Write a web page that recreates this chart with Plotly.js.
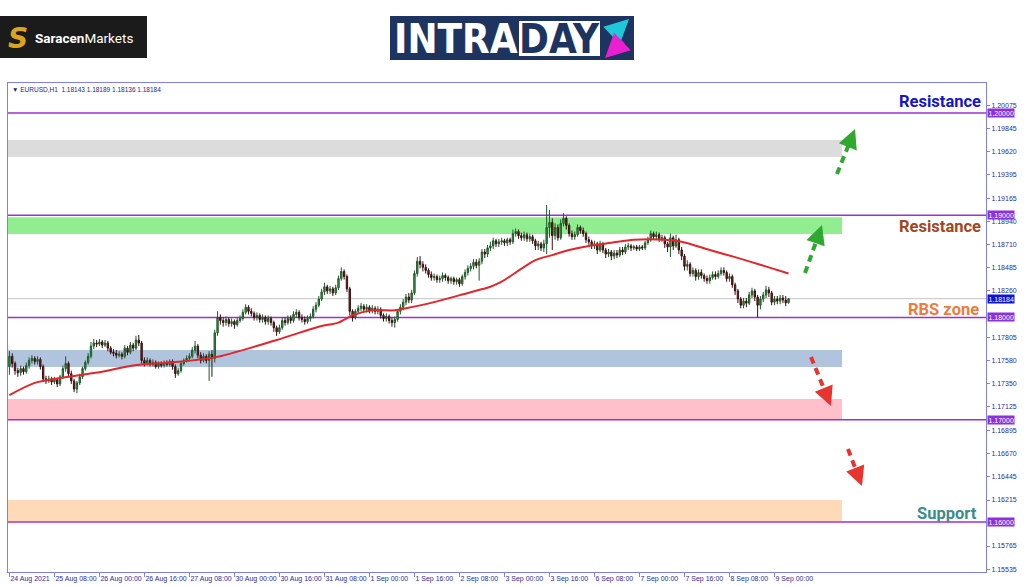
<!DOCTYPE html>
<html><head><meta charset="utf-8">
<script src="https://cdn.plot.ly/plotly-3.0.1.min.js"></script>
<style>html,body{margin:0;padding:0;background:#fff}#chart{width:1024px;height:587px}</style>
</head><body><div id="chart"></div>
<script>
// ---------- DATA (EURUSD H1) ----------
const openP = [1.1752,1.1762,1.1755,1.1748,1.1746,1.1750,1.1747,1.1753,1.1758,1.1760,
1.1757,1.1759,1.1752,1.1740,1.1738,1.1740,1.1737,1.1739,1.1735,1.1742,
1.1750,1.1755,1.1745,1.1738,1.1730,1.1736,1.1742,1.1750,1.1756,1.1762,
1.1772,1.1775,1.1774,1.1776,1.1773,1.1775,1.1770,1.1766,1.1765,1.1763,
1.1764,1.1762,1.1770,1.1766,1.1773,1.1770,1.1778,1.1775,1.1758,1.1755,
1.1758,1.1754,1.1756,1.1752,1.1755,1.1753,1.1756,1.1754,1.1757,1.1752,
1.1745,1.1748,1.1755,1.1758,1.1760,1.1762,1.1768,1.1772,1.1763,1.1758,
1.1762,1.1758,1.1764,1.1760,1.1785,1.1800,1.1797,1.1795,1.1798,1.1794,
1.1796,1.1793,1.1797,1.1799,1.1805,1.1810,1.1806,1.1804,1.1800,1.1802,
1.1798,1.1800,1.1796,1.1799,1.1795,1.1790,1.1786,1.1790,1.1797,1.1795,
1.1799,1.1797,1.1803,1.1805,1.1800,1.1798,1.1796,1.1799,1.1801,1.1808,
1.1812,1.1818,1.1825,1.1830,1.1826,1.1828,1.1824,1.1829,1.1838,1.1845,
1.1840,1.1828,1.1806,1.1800,1.1806,1.1809,1.1811,1.1808,1.1810,1.1807,
1.1809,1.1806,1.1808,1.1802,1.1799,1.1801,1.1797,1.1795,1.1798,1.1806,
1.1810,1.1815,1.1820,1.1817,1.1824,1.1843,1.1855,1.1852,1.1849,1.1846,
1.1842,1.1839,1.1840,1.1837,1.1838,1.1841,1.1839,1.1836,1.1838,1.1835,
1.1837,1.1833,1.1840,1.1844,1.1848,1.1850,1.1854,1.1851,1.1855,1.1864,
1.1862,1.1868,1.1870,1.1875,1.1872,1.1874,1.1875,1.1873,1.1876,1.1874,
1.1882,1.1884,1.1880,1.1878,1.1881,1.1877,1.1879,1.1875,1.1870,1.1872,
1.1868,1.1872,1.1888,1.1893,1.1880,1.1888,1.1878,1.1892,1.1897,1.1890,
1.1882,1.1879,1.1881,1.1888,1.1885,1.1882,1.1876,1.1874,1.1870,1.1872,
1.1866,1.1872,1.1866,1.1862,1.1864,1.1860,1.1863,1.1861,1.1866,1.1864,
1.1869,1.1870,1.1868,1.1869,1.1867,1.1869,1.1868,1.1873,1.1876,1.1882,
1.1879,1.1881,1.1877,1.1878,1.1872,1.1869,1.1878,1.1870,1.1876,1.1866,
1.1860,1.1850,1.1852,1.1843,1.1846,1.1840,1.1844,1.1841,1.1838,1.1836,
1.1839,1.1842,1.1840,1.1843,1.1846,1.1844,1.1838,1.1840,1.1832,1.1826,
1.1818,1.1812,1.1816,1.1814,1.1822,1.1826,1.1820,1.1812,1.1818,1.1822,
1.1827,1.1824,1.1815,1.1818,1.1816,1.1819,1.1817,1.18143];

const highP = [1.1767,1.1765,1.1757,1.1751,1.1753,1.1752,1.1756,1.1761,1.1763,1.1762,
1.1762,1.1761,1.1754,1.1743,1.1743,1.1742,1.1742,1.1741,1.1744,1.1753,
1.1762,1.1757,1.1748,1.1740,1.1738,1.1745,1.1752,1.1758,1.1765,1.1776,
1.1779,1.1778,1.1779,1.1778,1.1778,1.1777,1.1772,1.1769,1.1768,1.1767,
1.1766,1.1773,1.1772,1.1776,1.1775,1.1782,1.1783,1.1777,1.1761,1.1761,
1.1760,1.1759,1.1758,1.1757,1.1757,1.1758,1.1758,1.1759,1.1759,1.1754,
1.1751,1.1757,1.1760,1.1763,1.1765,1.1771,1.1777,1.1774,1.1766,1.1765,
1.1764,1.1767,1.1768,1.1788,1.1806,1.1803,1.1800,1.1801,1.1800,1.1799,
1.1798,1.1800,1.1802,1.1808,1.1813,1.1812,1.1809,1.1806,1.1805,1.1804,
1.1803,1.1802,1.1802,1.1801,1.1797,1.1792,1.1793,1.1800,1.1800,1.1802,
1.1802,1.1806,1.1808,1.1807,1.1803,1.1801,1.1802,1.1804,1.1811,1.1815,
1.1821,1.1828,1.1834,1.1832,1.1831,1.1830,1.1832,1.1841,1.1849,1.1847,
1.1842,1.1830,1.1808,1.1808,1.1812,1.1814,1.1813,1.1813,1.1812,1.1812,
1.1811,1.1811,1.1810,1.1804,1.1804,1.1803,1.1800,1.1801,1.1808,1.1813,
1.1818,1.1823,1.1824,1.1827,1.1846,1.1859,1.1860,1.1855,1.1852,1.1848,
1.1845,1.1843,1.1842,1.1841,1.1844,1.1843,1.1841,1.1840,1.1840,1.1839,
1.1839,1.1842,1.1847,1.1851,1.1853,1.1857,1.1857,1.1858,1.1867,1.1867,
1.1871,1.1874,1.1878,1.1877,1.1877,1.1878,1.1877,1.1878,1.1878,1.1886,
1.1887,1.1886,1.1883,1.1884,1.1883,1.1882,1.1881,1.1877,1.1875,1.1874,
1.1876,1.1910,1.1905,1.1897,1.1892,1.1891,1.1896,1.1902,1.1899,1.1892,
1.1885,1.1884,1.1891,1.1890,1.1888,1.1884,1.1879,1.1876,1.1875,1.1874,
1.1875,1.1874,1.1868,1.1867,1.1866,1.1866,1.1866,1.1869,1.1869,1.1872,
1.1873,1.1872,1.1871,1.1871,1.1871,1.1871,1.1875,1.1879,1.1885,1.1884,
1.1884,1.1883,1.1881,1.1880,1.1874,1.1882,1.1880,1.1881,1.1878,1.1869,
1.1862,1.1856,1.1854,1.1849,1.1848,1.1847,1.1847,1.1843,1.1841,1.1842,
1.1845,1.1845,1.1846,1.1849,1.1849,1.1846,1.1843,1.1842,1.1834,1.1828,
1.1820,1.1819,1.1819,1.1825,1.1829,1.1828,1.1822,1.1821,1.1825,1.1831,
1.1830,1.1826,1.1821,1.1821,1.1822,1.1822,1.1821,1.18189];

const lowP = [1.1744,1.1751,1.1744,1.1742,1.1743,1.1744,1.1745,1.1750,1.1755,1.1754,
1.1754,1.1749,1.1737,1.1735,1.1736,1.1734,1.1735,1.1732,1.1733,1.1740,
1.1747,1.1742,1.1735,1.1727,1.1726,1.1734,1.1740,1.1748,1.1754,1.1760,
1.1769,1.1771,1.1772,1.1770,1.1771,1.1767,1.1764,1.1762,1.1760,1.1761,
1.1759,1.1760,1.1763,1.1764,1.1767,1.1768,1.1772,1.1755,1.1752,1.1753,
1.1752,1.1752,1.1750,1.1750,1.1751,1.1751,1.1752,1.1752,1.1749,1.1741,
1.1743,1.1746,1.1753,1.1756,1.1757,1.1760,1.1765,1.1760,1.1755,1.1756,
1.1755,1.1738,1.1742,1.1756,1.1782,1.1793,1.1791,1.1792,1.1791,1.1791,
1.1789,1.1791,1.1795,1.1797,1.1803,1.1803,1.1801,1.1797,1.1797,1.1795,
1.1795,1.1793,1.1793,1.1792,1.1786,1.1782,1.1784,1.1788,1.1792,1.1793,
1.1794,1.1795,1.1800,1.1797,1.1795,1.1793,1.1794,1.1796,1.1799,1.1805,
1.1810,1.1816,1.1822,1.1823,1.1823,1.1821,1.1822,1.1827,1.1836,1.1837,
1.1825,1.1802,1.1796,1.1798,1.1804,1.1806,1.1805,1.1805,1.1804,1.1804,
1.1803,1.1803,1.1799,1.1796,1.1796,1.1794,1.1791,1.1790,1.1796,1.1803,
1.1807,1.1812,1.1814,1.1814,1.1822,1.1840,1.1848,1.1845,1.1843,1.1839,
1.1836,1.1836,1.1834,1.1834,1.1835,1.1836,1.1833,1.1833,1.1832,1.1832,
1.1830,1.1831,1.1837,1.1841,1.1845,1.1847,1.1848,1.1836,1.1852,1.1858,
1.1859,1.1865,1.1867,1.1869,1.1869,1.1871,1.1870,1.1870,1.1871,1.1872,
1.1879,1.1877,1.1875,1.1875,1.1874,1.1874,1.1872,1.1866,1.1866,1.1865,
1.1864,1.1862,1.1878,1.1866,1.1876,1.1875,1.1876,1.1889,1.1886,1.1879,
1.1876,1.1876,1.1879,1.1882,1.1879,1.1873,1.1871,1.1867,1.1867,1.1862,
1.1864,1.1863,1.1858,1.1859,1.1856,1.1857,1.1858,1.1859,1.1861,1.1862,
1.1866,1.1865,1.1866,1.1865,1.1865,1.1866,1.1866,1.1871,1.1874,1.1876,
1.1876,1.1874,1.1874,1.1868,1.1864,1.1859,1.1866,1.1868,1.1862,1.1856,
1.1846,1.1846,1.1840,1.1840,1.1836,1.1837,1.1838,1.1835,1.1833,1.1833,
1.1837,1.1837,1.1838,1.1841,1.1841,1.1835,1.1835,1.1829,1.1822,1.1814,
1.1809,1.1809,1.1810,1.1812,1.1819,1.1816,1.1800,1.1808,1.1815,1.1819,
1.1820,1.1812,1.1812,1.1813,1.1813,1.1814,1.1811,1.18136];

const closeP = [1.1762,1.1755,1.1748,1.1746,1.1750,1.1747,1.1753,1.1758,1.1760,1.1757,
1.1759,1.1752,1.1740,1.1738,1.1740,1.1737,1.1739,1.1735,1.1742,1.1750,
1.1755,1.1745,1.1738,1.1730,1.1736,1.1742,1.1750,1.1756,1.1762,1.1772,
1.1775,1.1774,1.1776,1.1773,1.1775,1.1770,1.1766,1.1765,1.1763,1.1764,
1.1762,1.1770,1.1766,1.1773,1.1770,1.1778,1.1775,1.1758,1.1755,1.1758,
1.1754,1.1756,1.1752,1.1755,1.1753,1.1756,1.1754,1.1757,1.1752,1.1745,
1.1748,1.1755,1.1758,1.1760,1.1762,1.1768,1.1772,1.1763,1.1758,1.1762,
1.1758,1.1764,1.1760,1.1785,1.1800,1.1797,1.1795,1.1798,1.1794,1.1796,
1.1793,1.1797,1.1799,1.1805,1.1810,1.1806,1.1804,1.1800,1.1802,1.1798,
1.1800,1.1796,1.1799,1.1795,1.1790,1.1786,1.1790,1.1797,1.1795,1.1799,
1.1797,1.1803,1.1805,1.1800,1.1798,1.1796,1.1799,1.1801,1.1808,1.1812,
1.1818,1.1825,1.1830,1.1826,1.1828,1.1824,1.1829,1.1838,1.1845,1.1840,
1.1828,1.1806,1.1800,1.1806,1.1809,1.1811,1.1808,1.1810,1.1807,1.1809,
1.1806,1.1808,1.1802,1.1799,1.1801,1.1797,1.1795,1.1798,1.1806,1.1810,
1.1815,1.1820,1.1817,1.1824,1.1843,1.1855,1.1852,1.1849,1.1846,1.1842,
1.1839,1.1840,1.1837,1.1838,1.1841,1.1839,1.1836,1.1838,1.1835,1.1837,
1.1833,1.1840,1.1844,1.1848,1.1850,1.1854,1.1851,1.1855,1.1864,1.1862,
1.1868,1.1870,1.1875,1.1872,1.1874,1.1875,1.1873,1.1876,1.1874,1.1882,
1.1884,1.1880,1.1878,1.1881,1.1877,1.1879,1.1875,1.1870,1.1872,1.1868,
1.1872,1.1888,1.1893,1.1880,1.1888,1.1878,1.1892,1.1897,1.1890,1.1882,
1.1879,1.1881,1.1888,1.1885,1.1882,1.1876,1.1874,1.1870,1.1872,1.1866,
1.1872,1.1866,1.1862,1.1864,1.1860,1.1863,1.1861,1.1866,1.1864,1.1869,
1.1870,1.1868,1.1869,1.1867,1.1869,1.1868,1.1873,1.1876,1.1882,1.1879,
1.1881,1.1877,1.1878,1.1872,1.1869,1.1878,1.1870,1.1876,1.1866,1.1860,
1.1850,1.1852,1.1843,1.1846,1.1840,1.1844,1.1841,1.1838,1.1836,1.1839,
1.1842,1.1840,1.1843,1.1846,1.1844,1.1838,1.1840,1.1832,1.1826,1.1818,
1.1812,1.1816,1.1814,1.1822,1.1826,1.1820,1.1812,1.1818,1.1822,1.1827,
1.1824,1.1815,1.1818,1.1816,1.1819,1.1817,1.18143,1.18184];

// moving average (red line), sampled at bar positions
const maBars   = [0,9,21,33,44,57,73,95,110,117,122,129,137,141,151,163,171,175,187,193,199,206,214,222,233,239,249,258,270,277];
const maValues = [1.1724,1.1736,1.1742,1.1747,1.1753,1.1756,1.1761,1.1778,1.1791,1.1795,1.1802,1.1807,1.1807,1.1809,1.1815,1.1824,1.1830,1.1835,1.1856,1.1861,1.1866,1.1870,1.1873,1.1876,1.1876,1.1874,1.1866,1.1859,1.1849,1.1843];

const xTickBars   = [0,16,32,48,64,80,96,112,128,144,160,176,192,208,224,240,256,272];
const xTickLabels = ['24 Aug 2021','25 Aug 08:00','26 Aug 00:00','26 Aug 16:00','27 Aug 08:00','30 Aug 00:00','30 Aug 16:00','31 Aug 08:00','1 Sep 00:00','1 Sep 16:00','2 Sep 08:00','3 Sep 00:00','3 Sep 16:00','6 Sep 08:00','7 Sep 00:00','7 Sep 16:00','8 Sep 08:00','9 Sep 00:00'];
const yTickVals = [1.20075,1.19845,1.19620,1.19395,1.19165,1.18940,1.18710,1.18485,1.18260,1.17805,1.17580,1.17350,1.17125,1.16895,1.16670,1.16445,1.16215,1.15765,1.15535];

const levelPrices = [1.20000,1.19000,1.18000,1.17000,1.16000];
const lastPrice = 1.18184;
const zoneLow  = [1.19570,1.18817,1.17516,1.17007,1.16010];
const zoneHigh = [1.19736,1.18980,1.17682,1.17203,1.16215];
const headerText = 'EURUSD,H1  1.18143 1.18189 1.18136 1.18184';

// ---------- LAYOUT HELPERS ----------
const L = 8, R = 986, T = 83, B = 572;
const px = x => (x - L) / (R - L);
const py = y => (B - y) / (B - T);
const frame = '#7f7fee';
const purple = '#9b30d8';
const tickFont = {family: 'Liberation Sans, Arial, sans-serif', size: 7, color: '#2b2b9e'};
const zoneColors = ['#dcdcdc', '#90ee90', '#b0c4de', '#ffc0cb', '#ffdab9'];

const bars = closeP.map((_, i) => i);

const traces = [
  {
    type: 'candlestick', x: bars, open: openP, high: highP, low: lowP, close: closeP,
    increasing: {line: {color: '#1e5a28', width: 1}, fillcolor: '#3f9a4d'},
    decreasing: {line: {color: '#3a1010', width: 1}, fillcolor: '#8b2323'},
    whiskerwidth: 0, hoverinfo: 'skip', showlegend: false
  },
  {
    type: 'scatter', mode: 'lines', x: maBars, y: maValues,
    line: {color: '#e3262b', width: 2, shape: 'spline', smoothing: 0.8},
    hoverinfo: 'skip', showlegend: false
  }
];

const shapes = [];
zoneLow.forEach((lo, k) => shapes.push({
  type: 'rect', xref: 'paper', yref: 'y', x0: 0, x1: px(842), y0: lo, y1: zoneHigh[k],
  fillcolor: zoneColors[k], line: {width: 0}, layer: 'below'
}));
shapes.push({type: 'line', xref: 'paper', yref: 'y', x0: 0, x1: 1, y0: lastPrice, y1: lastPrice,
  line: {color: '#c4c4c4', width: 1}, layer: 'below'});
levelPrices.forEach(p => shapes.push({
  type: 'line', xref: 'paper', yref: 'y', x0: 0, x1: 1, y0: p, y1: p,
  line: {color: purple, width: 1.6}, layer: 'below'
}));

// dashed arrows (tail -> head, pixel positions)
const arrows = [
  {t: [837, 174], h: [855, 129], c: '#2ea82e'},
  {t: [805, 273], h: [822, 225], c: '#2ea82e'},
  {t: [811, 357], h: [831, 406], c: '#e8342e'},
  {t: [848, 449], h: [862, 486], c: '#e8342e'}
];
const annotations = [];
arrows.forEach(a => {
  const dx = a.h[0] - a.t[0], dy = a.h[1] - a.t[1];
  const len = Math.hypot(dx, dy), ux = dx / len, uy = dy / len;
  const ex = a.h[0] - ux * 10, ey = a.h[1] - uy * 10;
  shapes.push({type: 'line', xref: 'paper', yref: 'paper', x0: px(a.t[0]), y0: py(a.t[1]), x1: px(ex), y1: py(ey),
    line: {color: a.c, width: 4, dash: '7px,5px'}});
  annotations.push({xref: 'paper', yref: 'paper', x: px(a.h[0]), y: py(a.h[1]), text: '',
    showarrow: true, arrowhead: 2, arrowsize: 1.1, arrowwidth: 3.5, arrowcolor: a.c,
    ax: -ux * 11, ay: -uy * 11});
});

// logos
shapes.push({type: 'rect', xref: 'paper', yref: 'paper', x0: px(0), x1: px(147), y0: py(58), y1: py(16),
  fillcolor: '#1b1b1b', line: {width: 0}});
shapes.push({type: 'rect', xref: 'paper', yref: 'paper', x0: px(390), x1: px(634), y0: py(60), y1: py(16),
  fillcolor: '#1d3461', line: {width: 0}});
shapes.push({type: 'rect', xref: 'paper', yref: 'paper', x0: px(519), x1: px(600), y0: py(56), y1: py(21),
  fillcolor: '#ffffff', line: {width: 0}});

function txt(x, y, text, font, xa) {
  return {xref: 'paper', yref: 'paper', x: px(x), y: py(y), xanchor: xa || 'center', yanchor: 'middle',
    text: text, showarrow: false, font: font};
}

annotations.push(
  txt(18, 38, '<b><i>S</i></b>', {family: 'DejaVu Sans, sans-serif', size: 28, color: '#d9a521'}),
  txt(33, 38, '<b>Saracen</b>Markets', {family: 'Roboto, sans-serif', size: 13.5, color: '#ffffff'}, 'left'),
  txt(456, 39, '<b>INTRA</b>', {family: 'Liberation Sans Narrow, DejaVu Sans Condensed, sans-serif', size: 40, color: '#ffffff'}),
  txt(559.5, 39, '<b>DAY</b>', {family: 'Liberation Sans Narrow, DejaVu Sans Condensed, sans-serif', size: 40, color: '#1d3461'}),
  {xref: 'paper', yref: 'paper', x: px(629), y: py(19), text: '', showarrow: true, arrowhead: 2,
    arrowsize: 0.8, arrowwidth: 6, arrowcolor: '#1fc8d8', ax: -18, ay: 17},
  {xref: 'paper', yref: 'paper', x: px(605), y: py(58), text: '', showarrow: true, arrowhead: 2,
    arrowsize: 0.8, arrowwidth: 6, arrowcolor: '#ec1fd0', ax: 19, ay: -18},
  // header inside chart
  txt(10, 89, '\u25BC ' + headerText, {family: 'Liberation Sans, Arial, sans-serif', size: 6.5, color: '#1e1e8c'}, 'left'),
  // zone labels
  txt(983, 101, '<b>Resistance</b>', {family: 'Roboto, sans-serif', size: 16.5, color: '#1414c8'}, 'right'),
  txt(983, 227, '<b>Resistance</b>', {family: 'Roboto, sans-serif', size: 16.5, color: '#a2461d'}, 'right'),
  txt(981, 309, '<b>RBS zone</b>', {family: 'Roboto, sans-serif', size: 16.5, color: '#f27a3c'}, 'right'),
  txt(979, 513, '<b>Support</b>', {family: 'Roboto, sans-serif', size: 16.5, color: '#3c8c8a'}, 'right')
);

// price tags on the right axis
levelPrices.forEach(p => annotations.push({
  xref: 'paper', yref: 'y', x: 1, y: p, xanchor: 'left', yanchor: 'middle', xshift: 1, text: p.toFixed(5), showarrow: false,
  bgcolor: '#8c2fe0', borderpad: 0.5, font: {family: 'Liberation Sans, Arial, sans-serif', size: 7, color: '#ffffff'}
}));
annotations.push({
  xref: 'paper', yref: 'y', x: 1, y: lastPrice, xanchor: 'left', yanchor: 'middle', xshift: 1, text: lastPrice.toFixed(5), showarrow: false,
  bgcolor: '#1212d6', borderpad: 0.5, font: {family: 'Liberation Sans, Arial, sans-serif', size: 7, color: '#ffffff'}
});

const layout = {
  width: 1024, height: 587,
  margin: {l: L, r: 1024 - R, t: T, b: 587 - B, pad: 0},
  paper_bgcolor: '#ffffff', plot_bgcolor: '#ffffff',
  showlegend: false, dragmode: false,
  xaxis: {
    range: [-0.5, 347.2], showgrid: false, zeroline: false,
    showline: true, mirror: true, linecolor: frame, linewidth: 1,
    ticks: 'outside', ticklen: 4, tickcolor: frame, tickwidth: 1,
    tickmode: 'array', tickvals: xTickBars, ticktext: xTickLabels, tickangle: 0,
    ticklabelposition: 'outside right', tickfont: tickFont,
    rangeslider: {visible: false}, fixedrange: true
  },
  yaxis: {
    side: 'right', range: [1.15511, 1.20293], showgrid: false, zeroline: false,
    showline: true, mirror: true, linecolor: frame, linewidth: 1,
    ticks: 'outside', ticklen: 3, tickcolor: frame,
    tickmode: 'array', tickvals: yTickVals, ticktext: yTickVals.map(v => v.toFixed(5)),
    tickfont: tickFont, fixedrange: true
  },
  shapes: shapes,
  annotations: annotations
};

Plotly.newPlot('chart', traces, layout, {displayModeBar: false, staticPlot: true});
</script></body></html>
